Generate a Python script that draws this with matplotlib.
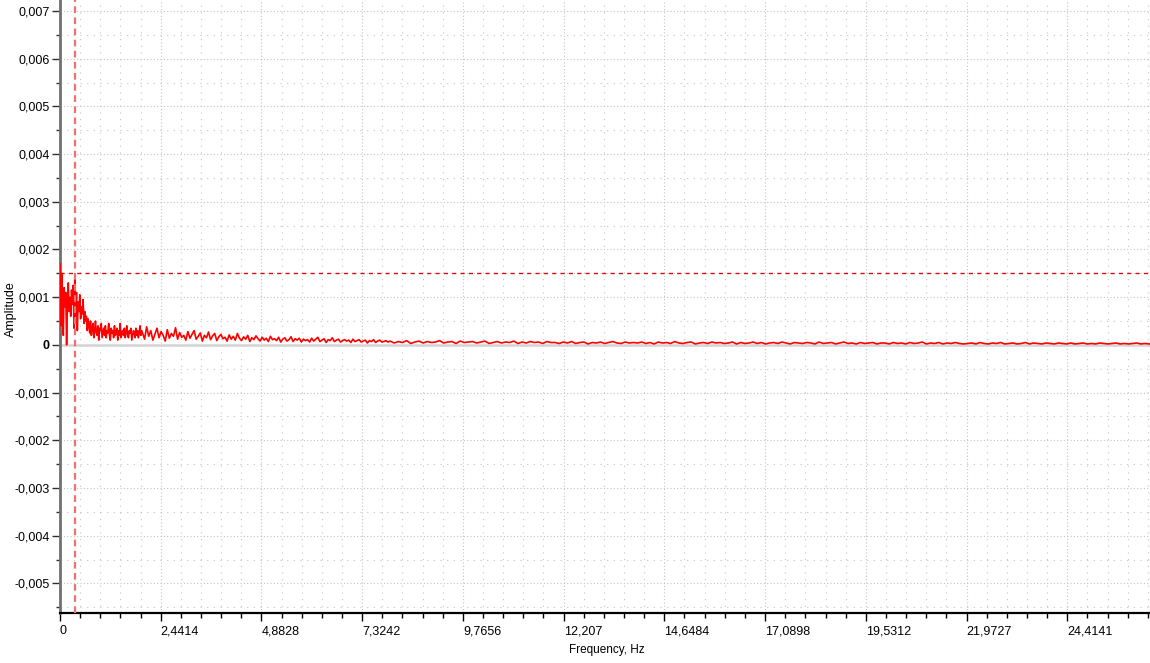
import numpy as np
import matplotlib.pyplot as plt
from matplotlib import font_manager
from matplotlib.ticker import FixedLocator, MultipleLocator

# Amplitude values, in units of 1e-5
amp_low = [170, 40, 150, 95, 20, 120, 80, 110, 0, 90, 130, 70, 100, 60, 115, 85, 125, 35,
           145, 60, 110, 30, 90, 70, 105, 55, 80, 65, 95, 45, 70, 50, 60, 30, 55, 40, 25, 50,
           20, 35, 45, 15, 30, 50, 25, 20, 40, 10, 35, 30, 45, 15, 25, 35, 20, 40, 15, 30, 25,
           45, 20, 10, 35, 25, 30, 15, 40, 20, 25, 35, 10, 30, 20, 45, 15, 25, 30, 20, 35, 15,
           25, 40, 20, 15, 30, 25, 35, 10, 20, 30, 25, 15, 35, 20, 30, 15, 25, 40, 20, 30]
amp_mid = [25, 12, 38, 18, 30, 10, 22, 35, 15, 28, 20, 8, 32, 14, 24, 18, 36, 12, 26, 16,
           20, 10, 28, 14, 22, 30, 12, 18, 25, 8, 20, 15, 27, 11, 19, 24, 9, 17, 22, 13,
           16, 8, 21, 12, 18, 10, 24, 14, 9, 17, 12, 20, 7, 15, 11, 19, 13, 8, 16, 10,
           14, 7, 18, 11, 13, 9, 16, 6, 12, 15, 8, 11, 17, 7, 13, 10, 14, 6, 12, 9,
           11, 6, 14, 8, 12, 16, 7, 10, 13, 5, 11, 9, 15, 7, 10, 12, 6, 9, 11, 8,
           10, 5, 12, 7, 9, 11, 6, 8, 10, 4, 9, 7, 11, 5, 8, 10, 6, 7, 9, 6]
amp_high = [8, 4, 7, 5, 9, 3, 6, 8, 4, 7, 5, 6, 9, 4, 6, 7, 3, 8, 5, 6,
            7, 4, 6, 8, 3, 5, 7, 4, 6, 5, 8, 3, 6, 4, 7, 5, 6, 3, 7, 5,
            5, 3, 6, 4, 7, 3, 5, 6, 2, 5, 4, 6, 3, 5, 7, 4, 3, 6, 4, 5,
            4, 6, 3, 5, 2, 6, 4, 5, 3, 7, 4, 3, 5, 6, 2, 4, 5, 3, 6, 4,
            5, 3, 4, 6, 2, 5, 3, 4, 6, 3, 5, 2, 4, 5, 3, 6, 4, 2, 5, 4,
            3, 5, 4, 2, 6, 3, 4, 5, 2, 4, 6, 3, 4, 2, 5, 3, 4, 5, 2, 4,
            4, 2, 5, 3, 4, 2, 5, 3, 4, 6, 2, 4, 3, 5, 2, 4, 3, 5, 3, 2,
            3, 4, 2, 5, 3, 2, 4, 3, 5, 2, 3, 4, 2, 3, 5, 2, 4, 3, 2, 4,
            3, 2, 4, 3, 2, 4, 2, 3, 4, 2, 3, 2, 4, 3, 2, 3, 4, 2, 3, 2, 3, 4, 2, 3, 2]

x_tick_values = [0, 2.44140625, 4.8828125, 7.32421875, 9.765625, 12.20703125,
                 14.6484375, 17.08984375, 19.53125, 21.97265625, 24.4140625]
x_tick_labels = ['0', '2,4414', '4,8828', '7,3242', '9,7656', '12,207',
                 '14,6484', '17,0898', '19,5312', '21,9727', '24,4141']
y_tick_values = [0.007, 0.006, 0.005, 0.004, 0.003, 0.002, 0.001, 0,
                 -0.001, -0.002, -0.003, -0.004, -0.005]
y_tick_labels = ['0,007', '0,006', '0,005', '0,004', '0,003', '0,002', '0,001', '0',
                 '-0,001', '-0,002', '-0,003', '-0,004', '-0,005']

marker_freq = 0.364
threshold = 0.0015


def pick_font():
    names = {f.name for f in font_manager.fontManager.ttflist}
    for name in ['Liberation Sans Narrow', 'Liberation Sans', 'DejaVu Sans']:
        if name in names:
            return name
    return 'DejaVu Sans'


def main():
    font = pick_font()
    plt.rcParams['font.family'] = font

    # frequency bins of each segment
    f_low = np.arange(len(amp_low)) * 0.02
    f_mid = 2.0 + np.arange(len(amp_mid)) * 0.05
    f_high = 8.0 + np.arange(len(amp_high)) * 0.1
    freq = np.concatenate([f_low, f_mid, f_high])
    amp = np.concatenate([amp_low, amp_mid, amp_high]) * 1e-5

    fig = plt.figure(figsize=(11.5, 6.63), dpi=100)
    ax = fig.add_axes([60 / 1150, 50 / 663, 1090 / 1150, 613 / 663])

    ax.set_xlim(0, 26.42)
    ax.set_ylim(-0.00562, 0.00723)

    # grid
    ax.xaxis.set_major_locator(FixedLocator(x_tick_values))
    ax.xaxis.set_minor_locator(MultipleLocator(0.48828125))
    ax.yaxis.set_major_locator(FixedLocator(y_tick_values))
    ax.yaxis.set_minor_locator(MultipleLocator(0.0005))
    ax.grid(which='major', color='#c4c4c4', linestyle=(0, (1, 2)), linewidth=0.8)
    ax.grid(which='minor', color='#c4c4c4', linestyle=(0, (1, 5)), linewidth=0.8)
    ax.axhline(0, color='#d4d4d4', linewidth=1.8, zorder=1)
    ax.set_axisbelow(True)

    ax.plot(freq, amp, color='#ff0000', linewidth=1.2, zorder=3)

    ax.axvline(marker_freq, color='#f07070', linewidth=1.6, linestyle=(0, (3, 2)), zorder=4)
    ax.axhline(threshold, color='#d01010', linewidth=1.0, linestyle=(0, (3, 3)), zorder=4)

    ax.set_xticklabels(x_tick_labels, ha='left')
    ax.set_yticklabels(y_tick_labels)
    for lab in ax.get_yticklabels():
        if lab.get_text() == '0':
            lab.set_fontweight('bold')

    ax.tick_params(axis='x', which='major', direction='out', length=6, width=1,
                   labelsize=9, pad=3, color='black')
    ax.tick_params(axis='x', which='minor', direction='out', length=3.5, width=1, color='black')
    ax.tick_params(axis='y', which='major', direction='out', length=6, width=1,
                   labelsize=9, pad=1.5, color='#303030')
    ax.tick_params(axis='y', which='minor', direction='out', length=3, width=1, color='#303030')

    for side in ['top', 'right']:
        ax.spines[side].set_visible(False)
    ax.spines['left'].set_color('#707070')
    ax.spines['left'].set_linewidth(2)
    ax.spines['bottom'].set_color('black')
    ax.spines['bottom'].set_linewidth(1.6)

    fig.text(607 / 1150, 1 - 650 / 663, 'Frequency, Hz', ha='center', va='center', fontsize=8.5)
    fig.text(11 / 1150, 1 - 309 / 663, 'Amplitude', ha='center', va='center',
             rotation=90, fontsize=9)

    fig.savefig('out.png', dpi=100)


if __name__ == "__main__":
    main()
